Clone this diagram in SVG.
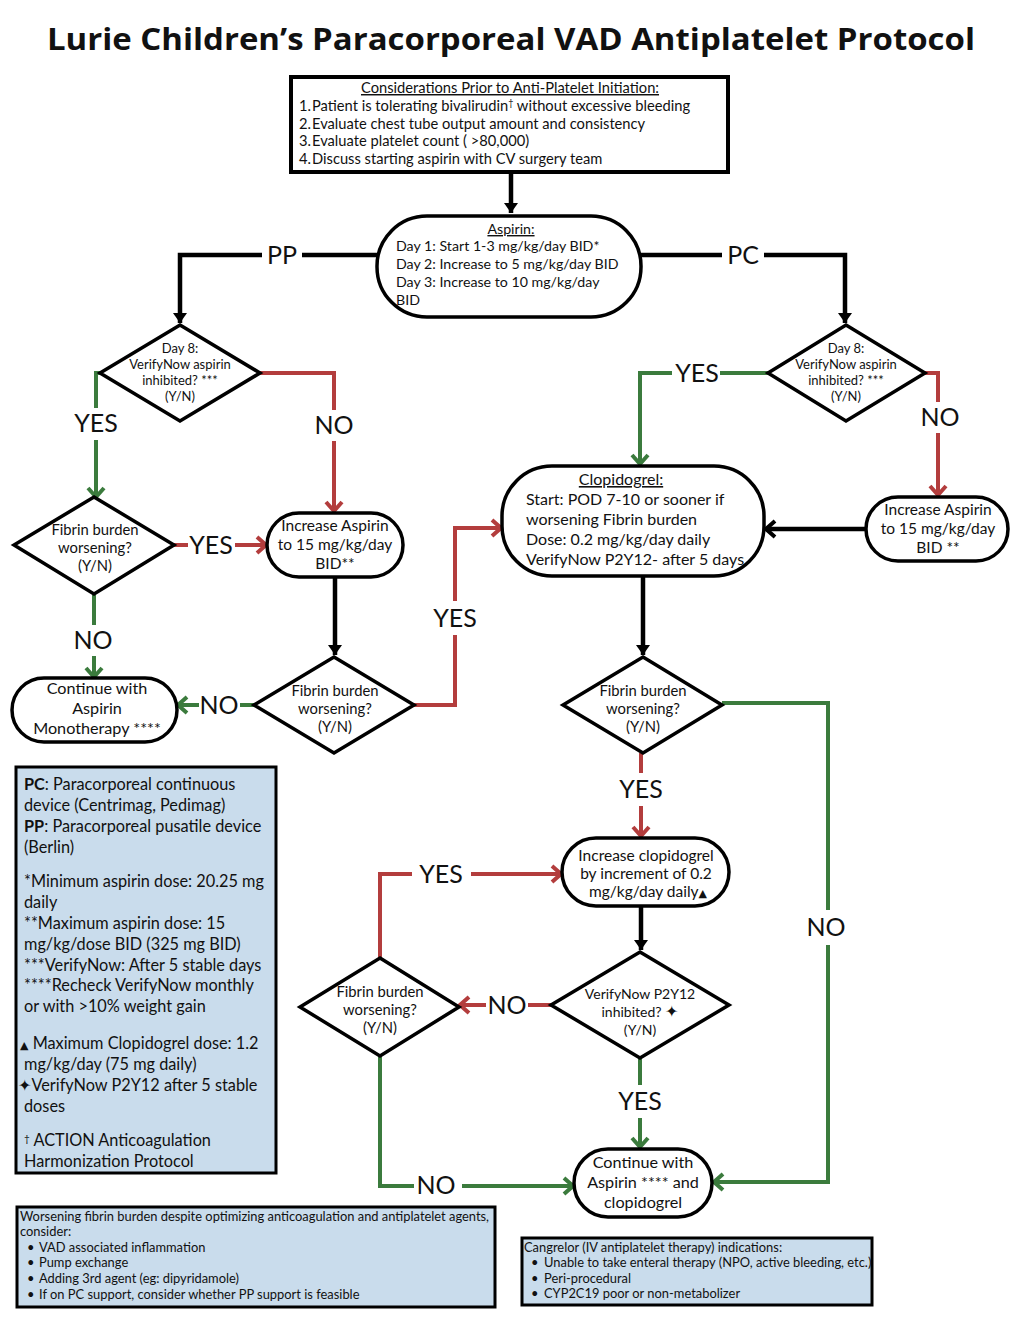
<svg xmlns="http://www.w3.org/2000/svg" width="1024" height="1326" viewBox="0 0 1024 1326">
<defs>
<style>
text{font-family:Lato,"Open Sans","Liberation Sans",sans-serif;fill:#111;}
.title{font-family:"Open Sans",Lato,sans-serif;font-weight:bold;font-size:31px;}
.tcon{font-size:14.7px;}
.tasp{font-size:14.2px;}
.t14{font-size:14px;}
.tfib{font-size:14.8px;}
.tinc{font-size:15.5px;}
.tcont{font-size:16.2px;}
.tclo{font-size:16px;}
.tleg{font-size:16.3px;}
.t12{font-size:13px;}
.t11{font-size:12.9px;}
.lbl{font-size:25px;}
.c{text-anchor:middle;}
.node{fill:#fff;stroke:#000;stroke-width:3.5;}
.note{fill:#c9dcec;stroke:#000;stroke-width:3;}
.k{fill:none;stroke:#000;stroke-width:4.5;}
.g{fill:none;stroke:#3b7b3d;stroke-width:4;}
.r{fill:none;stroke:#b33d3d;stroke-width:4;}
</style>
<marker id="ak" viewBox="0 0 16 16" markerWidth="16" markerHeight="16" refX="14" refY="8" orient="auto" markerUnits="userSpaceOnUse"><path d="M4,1 L14,8 L4,15 Z" fill="#000"/></marker>
<marker id="akc" viewBox="0 0 16 20" markerWidth="16" markerHeight="20" refX="14" refY="10" orient="auto" markerUnits="userSpaceOnUse"><path d="M5,2 L14,10 L5,18" fill="none" stroke="#000" stroke-width="4"/></marker>
<marker id="ag" viewBox="0 0 16 20" markerWidth="16" markerHeight="20" refX="14" refY="10" orient="auto" markerUnits="userSpaceOnUse"><path d="M5,2 L14,10 L5,18" fill="none" stroke="#3b7b3d" stroke-width="4"/></marker>
<marker id="ar" viewBox="0 0 16 20" markerWidth="16" markerHeight="20" refX="14" refY="10" orient="auto" markerUnits="userSpaceOnUse"><path d="M5,2 L14,10 L5,18" fill="none" stroke="#b33d3d" stroke-width="4"/></marker>
</defs>
<rect width="1024" height="1326" fill="#fff"/>
<text class="title c" x="511" y="50" textLength="928" lengthAdjust="spacingAndGlyphs">Lurie Children’s Paracorporeal VAD Antiplatelet Protocol</text>

<g id="connectors">
<path class="k" d="M511,172 V213" marker-end="url(#ak)"/>
<path class="k" d="M377,255 H302 M262,255 H180 V323" marker-end="url(#ak)"/>
<path class="k" d="M641,255 H722 M764,255 H845 V323" marker-end="url(#ak)"/>
<path class="k" d="M335,577 V655" marker-end="url(#ak)"/>
<path class="k" d="M866,529 H766" marker-end="url(#akc)"/>
<path class="k" d="M643,576 V655" marker-end="url(#ak)"/>
<path class="k" d="M641,906 V950" marker-end="url(#ak)"/>

<path class="g" d="M100,373 H96 V408 M96,440 V497" marker-end="url(#ag)"/>
<path class="g" d="M94,595 V625 M94,656 V677" marker-end="url(#ag)"/>
<path class="g" d="M254,705 H240 M199,705 H178" marker-end="url(#ag)"/>
<path class="g" d="M768,373 H720 M672,373 H640 V464" marker-end="url(#ag)"/>
<path class="g" d="M722,703 H828 V910 M828,945 V1182 H714" marker-end="url(#ag)"/>
<path class="g" d="M640,1058 V1085 M640,1118 V1147" marker-end="url(#ag)"/>
<path class="g" d="M380,1056 V1186 H414 M462,1186 H573" marker-end="url(#ag)"/>

<path class="r" d="M260,373 H334 V410 M334,441 V511" marker-end="url(#ar)"/>
<path class="r" d="M174,545 H188 M235,545 H266" marker-end="url(#ar)"/>
<path class="r" d="M414,705 H455 V635 M455,601 V528 H501" marker-end="url(#ar)"/>
<path class="r" d="M925,373 H938 V402 M938,433 V495" marker-end="url(#ar)"/>
<path class="r" d="M641,753 V773 M641,806 V836" marker-end="url(#ar)"/>
<path class="r" d="M551,1005 H528 M486,1005 H460" marker-end="url(#ar)"/>
<path class="r" d="M380,958 V874 H412 M471,874 H561" marker-end="url(#ar)"/>

<g>
<text class="lbl c" x="282" y="264">PP</text>
<text class="lbl c" x="743" y="264">PC</text>
<text class="lbl c" x="96" y="432">YES</text>
<text class="lbl c" x="334" y="434">NO</text>
<text class="lbl c" x="211" y="554">YES</text>
<text class="lbl c" x="93" y="649">NO</text>
<text class="lbl c" x="219" y="714">NO</text>
<text class="lbl c" x="455" y="627">YES</text>
<text class="lbl c" x="697" y="382">YES</text>
<text class="lbl c" x="940" y="426">NO</text>
<text class="lbl c" x="641" y="798">YES</text>
<text class="lbl c" x="826" y="936">NO</text>
<text class="lbl c" x="441" y="883">YES</text>
<text class="lbl c" x="507" y="1014">NO</text>
<text class="lbl c" x="640" y="1110">YES</text>
<text class="lbl c" x="436" y="1194">NO</text>
</g>
</g>

<g id="considerations">
<rect x="291" y="77" width="437" height="95" fill="#fff" stroke="#000" stroke-width="4"/>
<text class="tcon c" x="510" y="93" text-decoration="underline">Considerations Prior to Anti-Platelet Initiation:</text>
<text class="tcon" x="299" y="111">1.</text><text class="tcon" x="312" y="111">Patient is tolerating bivalirudin<tspan font-size="9" dy="-5">†</tspan><tspan dy="5"> without excessive bleeding</tspan></text>
<text class="tcon" x="299" y="129">2.</text><text class="tcon" x="312" y="129">Evaluate chest tube output amount and consistency</text>
<text class="tcon" x="299" y="146">3.</text><text class="tcon" x="312" y="146">Evaluate platelet count ( &gt;80,000)</text>
<text class="tcon" x="299" y="164">4.</text><text class="tcon" x="312" y="164">Discuss starting aspirin with CV surgery team</text>
</g>

<g id="aspirin">
<rect class="node" x="377" y="216" width="264" height="101" rx="50"/>
<text class="tasp c" x="511" y="234" text-decoration="underline">Aspirin:</text>
<text class="tasp" x="396" y="251">Day 1: Start 1-3 mg/kg/day BID*</text>
<text class="tasp" x="396" y="269">Day 2: Increase to 5 mg/kg/day BID</text>
<text class="tasp" x="396" y="287">Day 3: Increase to 10 mg/kg/day</text>
<text class="tasp" x="396" y="305">BID</text>
</g>

<g id="pp-verify">
<polygon class="node" points="180,325 260,373 180,421 100,373"/>
<text class="t12 c" x="180" y="353">Day 8:</text>
<text class="t12 c" x="180" y="369">VerifyNow aspirin</text>
<text class="t12 c" x="180" y="385">inhibited? ***</text>
<text class="t12 c" x="180" y="401">(Y/N)</text>
</g>

<g id="pc-verify">
<polygon class="node" points="846,325 925,373 846,421 768,373"/>
<text class="t12 c" x="846" y="353">Day 8:</text>
<text class="t12 c" x="846" y="369">VerifyNow aspirin</text>
<text class="t12 c" x="846" y="385">inhibited? ***</text>
<text class="t12 c" x="846" y="401">(Y/N)</text>
</g>

<g id="fibrin1">
<polygon class="node" points="94,497 174,545 94,594 14,545"/>
<text class="tfib c" x="95" y="535">Fibrin burden</text>
<text class="tfib c" x="95" y="553">worsening?</text>
<text class="tfib c" x="95" y="571">(Y/N)</text>
</g>

<g id="increase-aspirin-pp">
<rect class="node" x="267" y="513" width="136" height="64" rx="32"/>
<text class="tinc c" x="335" y="531">Increase Aspirin</text>
<text class="tinc c" x="335" y="550">to 15 mg/kg/day</text>
<text class="tinc c" x="335" y="569">BID**</text>
</g>

<g id="continue-mono">
<rect class="node" x="12" y="678" width="165" height="64" rx="32"/>
<text class="tcont c" x="97" y="694">Continue with</text>
<text class="tcont c" x="97" y="714">Aspirin</text>
<text class="tcont c" x="97" y="734">Monotherapy ****</text>
</g>

<g id="fibrin2">
<polygon class="node" points="334,657 414,705 334,753 254,705"/>
<text class="tfib c" x="335" y="696">Fibrin burden</text>
<text class="tfib c" x="335" y="714">worsening?</text>
<text class="tfib c" x="335" y="732">(Y/N)</text>
</g>

<g id="clopidogrel">
<rect class="node" x="502" y="466" width="262" height="110" rx="50"/>
<text class="tclo c" x="621" y="485" text-decoration="underline">Clopidogrel:</text>
<text class="tclo" x="526" y="505">Start: POD 7-10 or sooner if</text>
<text class="tclo" x="526" y="525">worsening Fibrin burden</text>
<text class="tclo" x="526" y="545">Dose: 0.2 mg/kg/day daily</text>
<text class="tclo" x="526" y="565">VerifyNow P2Y12- after 5 days</text>
</g>

<g id="increase-aspirin-pc">
<rect class="node" x="866" y="497" width="142" height="64" rx="32"/>
<text class="tinc c" x="938" y="515">Increase Aspirin</text>
<text class="tinc c" x="938" y="534">to 15 mg/kg/day</text>
<text class="tinc c" x="938" y="553">BID **</text>
</g>

<g id="fibrin3">
<polygon class="node" points="643,657 722,705 643,753 563,705"/>
<text class="tfib c" x="643" y="696">Fibrin burden</text>
<text class="tfib c" x="643" y="714">worsening?</text>
<text class="tfib c" x="643" y="732">(Y/N)</text>
</g>

<g id="increase-clopidogrel">
<rect class="node" x="562" y="838" width="167" height="68" rx="34"/>
<text class="tinc c" x="646" y="861">Increase clopidogrel</text>
<text class="tinc c" x="646" y="879">by increment of 0.2</text>
<text class="tinc c" x="648" y="897">mg/kg/day daily<tspan font-family="DejaVu Sans" font-size="11">▲</tspan></text>
</g>

<g id="verify-p2y12">
<polygon class="node" points="640,952 729,1005 640,1058 551,1005"/>
<text class="t14 c" x="640" y="999">VerifyNow P2Y12</text>
<text class="t14 c" x="640" y="1017">inhibited? <tspan font-family="DejaVu Sans" font-size="16">✦</tspan></text>
<text class="t14 c" x="640" y="1035">(Y/N)</text>
</g>

<g id="fibrin4">
<polygon class="node" points="380,958 459,1007 380,1056 300,1007"/>
<text class="tfib c" x="380" y="997">Fibrin burden</text>
<text class="tfib c" x="380" y="1015">worsening?</text>
<text class="tfib c" x="380" y="1033">(Y/N)</text>
</g>

<g id="continue-dual">
<rect class="node" x="574" y="1149" width="138" height="68" rx="34"/>
<text class="tcont c" x="643" y="1168">Continue with</text>
<text class="tcont c" x="643" y="1188">Aspirin **** and</text>
<text class="tcont c" x="643" y="1208">clopidogrel</text>
</g>

<g id="legend">
<rect class="note" x="16" y="767" width="260" height="406"/>
<text class="tleg" x="24" y="790"><tspan font-weight="bold">PC</tspan>: Paracorporeal continuous</text>
<text class="tleg" x="24" y="811">device (Centrimag, Pedimag)</text>
<text class="tleg" x="24" y="832"><tspan font-weight="bold">PP</tspan>: Paracorporeal pusatile device</text>
<text class="tleg" x="24" y="853">(Berlin)</text>
<text class="tleg" x="24" y="887">*Minimum aspirin dose: 20.25 mg</text>
<text class="tleg" x="24" y="908">daily</text>
<text class="tleg" x="24" y="929">**Maximum aspirin dose: 15</text>
<text class="tleg" x="24" y="950">mg/kg/dose BID (325 mg BID)</text>
<text class="tleg" x="24" y="971">***VerifyNow: After 5 stable days</text>
<text class="tleg" x="24" y="991">****Recheck VerifyNow monthly</text>
<text class="tleg" x="24" y="1012">or with &gt;10% weight gain</text>
<text class="tleg" x="20" y="1049"><tspan font-family="DejaVu Sans" font-size="11">▲</tspan> Maximum Clopidogrel dose: 1.2</text>
<text class="tleg" x="24" y="1070">mg/kg/day (75 mg daily)</text>
<text class="tleg" x="18" y="1091"><tspan font-family="DejaVu Sans" font-size="16">✦</tspan>VerifyNow P2Y12 after 5 stable</text>
<text class="tleg" x="24" y="1112">doses</text>
<text class="tleg" x="24" y="1146"><tspan font-size="10" dy="-4">†</tspan><tspan dy="4"> ACTION Anticoagulation</tspan></text>
<text class="tleg" x="24" y="1167">Harmonization Protocol</text>
</g>

<g id="note-fibrin">
<rect class="note" x="17" y="1207" width="478" height="100"/>
<text class="t11" x="20" y="1221">Worsening fibrin burden despite optimizing anticoagulation and antiplatelet agents,</text>
<text class="t11" x="20" y="1236">consider:</text>
<text class="t11" x="27" y="1252">•</text><text class="t11" x="39" y="1252">VAD associated inflammation</text>
<text class="t11" x="27" y="1267">•</text><text class="t11" x="39" y="1267">Pump exchange</text>
<text class="t11" x="27" y="1283">•</text><text class="t11" x="39" y="1283">Adding 3rd agent (eg: dipyridamole)</text>
<text class="t11" x="27" y="1299">•</text><text class="t11" x="39" y="1299">If on PC support, consider whether PP support is feasible</text>
</g>

<g id="note-cangrelor">
<rect class="note" x="522" y="1238" width="350" height="67"/>
<text class="t11" x="524" y="1252">Cangrelor (IV antiplatelet therapy) indications:</text>
<text class="t11" x="531" y="1267">•</text><text class="t11" x="544" y="1267">Unable to take enteral therapy (NPO, active bleeding, etc.)</text>
<text class="t11" x="531" y="1283">•</text><text class="t11" x="544" y="1283">Peri-procedural</text>
<text class="t11" x="531" y="1298">•</text><text class="t11" x="544" y="1298">CYP2C19 poor or non-metabolizer</text>
</g>
</svg>
